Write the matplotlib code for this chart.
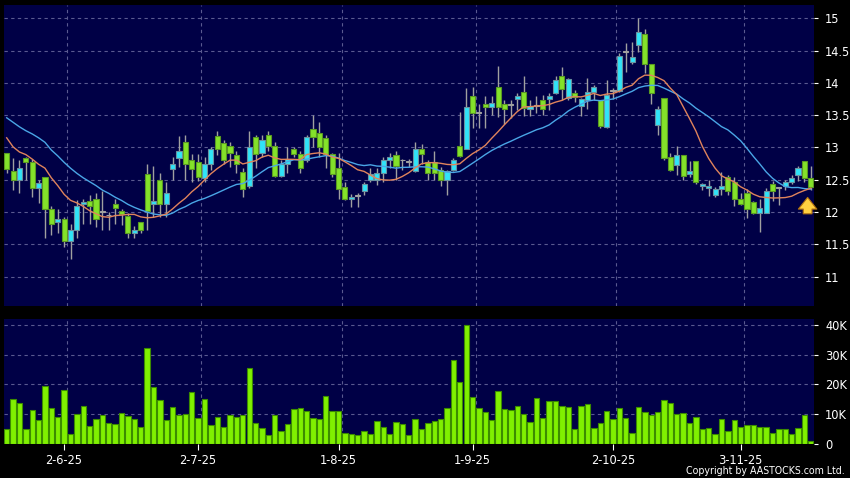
import numpy as np
import pandas as pd
import matplotlib
matplotlib.use('Agg')
import matplotlib.pyplot as plt

# daily OHLC (HKD)
opens = [12.91, 12.64, 12.50, 12.83, 12.77, 12.37, 12.55, 12.04, 11.84, 11.90,
         11.56, 11.73, 12.12, 12.17, 12.21, 12.00, 11.95, 12.12, 12.01, 11.94,
         11.67, 11.84, 12.59, 12.13, 12.50, 12.13, 12.66, 12.83, 13.09, 12.80,
         12.77, 12.52, 12.75, 13.18, 13.07, 13.03, 12.88, 12.62, 12.40, 13.16,
         12.91, 13.20, 13.03, 12.56, 12.75, 12.97, 12.90, 12.81, 13.28, 13.22,
         13.14, 12.90, 12.69, 12.39, 12.21, 12.25, 12.32, 12.50, 12.50, 12.61,
         12.81, 12.88, 12.80, 12.78, 12.64, 12.97, 12.77, 12.77, 12.65, 12.50,
         12.65, 13.03, 12.98, 13.79, 13.54, 13.67, 13.62, 13.93, 13.67, 13.66,
         13.75, 13.86, 13.59, 13.65, 13.74, 13.75, 13.85, 14.10, 13.76, 13.85,
         13.65, 13.74, 13.86, 13.74, 13.31, 13.88, 13.88, 14.48, 14.33, 14.58,
         14.75, 14.30, 13.35, 13.76, 12.86, 12.73, 12.89, 12.59, 12.79, 12.41,
         12.38, 12.26, 12.35, 12.55, 12.47, 12.20, 12.30, 12.16, 11.99, 11.98,
         12.44, 12.37, 12.41, 12.46, 12.58, 12.79, 12.52]
highs = [12.92, 12.83, 12.81, 12.86, 12.82, 12.50, 12.55, 12.10, 12.04, 11.93,
         11.82, 12.19, 12.21, 12.27, 12.29, 12.33, 12.00, 12.20, 12.05, 11.99,
         11.78, 11.84, 12.75, 12.72, 12.60, 12.47, 12.86, 13.18, 13.19, 12.90,
         12.90, 12.86, 13.01, 13.25, 13.12, 13.09, 12.94, 12.68, 13.26, 13.20,
         13.20, 13.25, 13.09, 12.80, 13.00, 13.01, 12.94, 13.20, 13.50, 13.39,
         13.20, 12.91, 12.91, 12.47, 12.28, 12.30, 12.47, 12.68, 12.68, 12.86,
         12.91, 12.94, 12.82, 12.82, 13.09, 13.06, 12.81, 12.94, 12.70, 12.65,
         12.83, 13.55, 13.92, 13.93, 13.68, 13.79, 13.79, 14.26, 13.74, 13.74,
         13.84, 14.10, 13.74, 13.79, 13.81, 13.84, 14.10, 14.24, 14.07, 13.89,
         13.76, 14.07, 13.97, 13.74, 14.05, 13.92, 14.47, 14.61, 14.64, 15.00,
         14.83, 14.30, 13.64, 13.76, 12.92, 13.02, 12.89, 12.79, 12.79, 12.45,
         12.49, 12.39, 12.62, 12.58, 12.54, 12.30, 12.36, 12.17, 12.21, 12.37,
         12.48, 12.39, 12.50, 12.57, 12.72, 12.79, 12.71]
lows = [12.60, 12.34, 12.30, 12.50, 12.24, 12.14, 11.60, 11.65, 11.67, 11.46,
        11.28, 11.60, 11.82, 11.82, 11.77, 11.73, 11.73, 11.82, 11.80, 11.60,
        11.60, 11.67, 11.73, 11.93, 11.93, 11.93, 12.50, 12.70, 12.50, 12.47,
        12.48, 12.47, 12.65, 12.88, 12.75, 12.70, 12.60, 12.24, 12.38, 12.68,
        12.86, 12.94, 12.55, 12.55, 12.60, 12.86, 12.60, 12.78, 13.00, 12.86,
        12.68, 12.55, 12.20, 12.19, 12.08, 12.08, 12.26, 12.47, 12.42, 12.47,
        12.68, 12.50, 12.65, 12.70, 12.62, 12.75, 12.50, 12.50, 12.40, 12.26,
        12.64, 12.86, 12.97, 13.30, 13.30, 13.30, 13.50, 13.47, 13.37, 13.45,
        13.58, 13.48, 13.48, 13.53, 13.50, 13.58, 13.83, 13.74, 13.74, 13.71,
        13.48, 13.59, 13.74, 13.30, 13.30, 13.75, 13.86, 14.17, 14.30, 14.48,
        14.15, 13.68, 13.19, 12.80, 12.63, 12.58, 12.49, 12.55, 12.44, 12.34,
        12.25, 12.23, 12.26, 12.26, 12.10, 12.11, 11.91, 11.97, 11.69, 11.98,
        12.17, 12.11, 12.34, 12.44, 12.48, 12.46, 12.34]
closes = [12.66, 12.50, 12.69, 12.77, 12.37, 12.45, 12.04, 11.81, 11.90, 11.56,
          11.73, 12.10, 12.15, 12.10, 11.90, 12.00, 11.95, 12.07, 11.97, 11.67,
          11.73, 11.72, 12.01, 12.17, 12.13, 12.29, 12.74, 12.95, 12.74, 12.66,
          12.55, 12.74, 12.97, 12.97, 12.81, 12.91, 12.75, 12.35, 13.00, 12.90,
          13.11, 13.03, 12.56, 12.74, 12.82, 12.90, 12.69, 13.16, 13.16, 13.01,
          12.90, 12.59, 12.35, 12.21, 12.23, 12.25, 12.44, 12.59, 12.61, 12.81,
          12.86, 12.72, 12.80, 12.78, 12.97, 12.90, 12.60, 12.61, 12.50, 12.64,
          12.81, 12.87, 13.62, 13.53, 13.54, 13.62, 13.69, 13.63, 13.59, 13.66,
          13.80, 13.61, 13.64, 13.65, 13.59, 13.80, 14.05, 13.90, 14.06, 13.78,
          13.75, 13.86, 13.93, 13.33, 13.81, 13.88, 14.42, 14.48, 14.40, 14.79,
          14.30, 13.84, 13.59, 12.83, 12.65, 12.88, 12.56, 12.63, 12.47, 12.44,
          12.41, 12.35, 12.41, 12.32, 12.20, 12.13, 12.05, 11.99, 12.07, 12.33,
          12.33, 12.37, 12.46, 12.53, 12.69, 12.53, 12.39]
# volume in thousands of shares
volumes_k = [5.1, 15.2, 13.9, 5.1, 11.5, 7.9, 19.3, 12.1, 9.2, 18.2,
             3.5, 10.0, 12.6, 6.2, 8.4, 9.8, 7.0, 6.6, 10.4, 9.3,
             8.4, 5.8, 32.1, 19.0, 14.8, 8.0, 12.4, 9.8, 10.0, 17.5,
             8.7, 15.2, 6.5, 9.2, 5.6, 9.7, 9.2, 9.8, 25.6, 7.2,
             5.3, 3.1, 9.6, 4.3, 6.7, 11.6, 12.2, 11.1, 8.8, 8.3,
             16.2, 11.2, 11.2, 3.8, 3.5, 3.1, 4.5, 3.3, 7.8, 5.8,
             3.4, 7.5, 6.7, 2.9, 8.4, 4.9, 6.9, 7.6, 8.3, 12.1,
             28.0, 20.8, 39.9, 15.7, 12.0, 10.6, 7.9, 17.6, 11.8, 11.5,
             12.8, 10.1, 7.3, 15.5, 8.8, 14.3, 14.5, 12.7, 12.4, 4.9,
             12.7, 13.5, 5.2, 7.1, 10.9, 8.3, 12.1, 8.8, 3.8, 12.5,
             10.6, 9.8, 10.7, 14.9, 13.9, 10.0, 10.3, 6.9, 9.2, 5.1,
             5.5, 3.5, 8.4, 4.2, 7.9, 5.8, 6.4, 6.4, 5.6, 5.6,
             3.8, 4.9, 4.9, 3.3, 5.4, 9.7, 1.0]
# moving averages before enough in-window closes exist
ma10_head = [13.15, 13.01, 12.93, 12.89, 12.82, 12.74, 12.68, 12.53, 12.41]
ma20_head = [13.46, 13.39, 13.32, 13.26, 13.21, 13.15, 13.08, 12.96, 12.87, 12.77,
             12.68, 12.60, 12.53, 12.47, 12.41, 12.34, 12.29, 12.23, 12.18]

date_idx = [9, 30, 52, 73, 95, 115]
date_labels = ['2-6-25', '2-7-25', '1-8-25', '1-9-25', '2-10-25', '3-11-25']
price_ticks = [11, 11.5, 12, 12.5, 13, 13.5, 14, 14.5, 15]
price_labels = ['11', '11.5', '12', '12.5', '13', '13.5', '14', '14.5', '15']
vol_ticks = [0, 10, 20, 30, 40]
vol_labels = ['0', '10K', '20K', '30K', '40K']
arrow_tip = 12.27
arrow_tail = 11.93

BG = '#000046'
GRID = '#5a5a90'
GREEN = '#84e22a'
GREEN_EDGE = '#5a9a22'
CYAN = '#30e4f8'
CYAN_EDGE = '#6a92a0'
GREY = '#a0a0a0'

plt.rcParams['font.family'] = ['DejaVu Sans']
plt.rcParams['font.stretch'] = 'condensed'

o = np.array(opens)
h = np.array(highs)
l = np.array(lows)
c = np.array(closes)
n = len(c)
x = np.arange(n)

s = pd.Series(closes)
ma10 = s.rolling(10).mean()
ma10.iloc[:len(ma10_head)] = ma10_head
ma20 = s.rolling(20).mean()
ma20.iloc[:len(ma20_head)] = ma20_head

fig = plt.figure(figsize=(8.5, 4.78), dpi=100, facecolor='black')
ax1 = fig.add_axes([4 / 850, 1 - 306 / 478, 810 / 850, 301 / 478])
ax2 = fig.add_axes([4 / 850, 1 - 444 / 478, 810 / 850, 125 / 478])

for ax in (ax1, ax2):
    ax.set_facecolor(BG)
    for sp in ax.spines.values():
        sp.set_visible(False)
    ax.set_xlim(-0.42, n - 0.5)
    for d in date_idx:
        ax.axvline(d + 0.5, color=GRID, lw=0.8, ls=(0, (3, 3)), zorder=1)
    ax.yaxis.tick_right()
    ax.tick_params(axis='y', colors='white', labelsize=9.2, length=3, pad=5)

# price panel
for p in price_ticks:
    ax1.axhline(p, color=GRID, lw=0.8, ls=(0, (3, 3)), zorder=1)
ax1.vlines(x, l, h, color=GREY, lw=1, zorder=2)
body_colors = np.where(c > o, CYAN, np.where(c < o, GREEN, GREY))
edge_colors = np.where(c > o, CYAN_EDGE, np.where(c < o, GREEN_EDGE, GREY))
ax1.bar(x, np.maximum(np.abs(c - o), 0.012), bottom=np.minimum(o, c), width=0.8,
        color=body_colors, edgecolor=edge_colors, linewidth=0.8, zorder=3)
ax1.plot(x, ma20, color='#4aa6e6', lw=1, zorder=4)
ax1.plot(x, ma10, color='#e0845c', lw=1, zorder=4)
ax1.annotate('', xy=(n - 1.5, arrow_tip), xytext=(n - 1.5, arrow_tail),
             arrowprops=dict(arrowstyle='simple,head_width=0.95,head_length=0.6,tail_width=0.45',
                             mutation_scale=14, fc='#ffd040', ec='#b07010', lw=0.8),
             zorder=5)
ax1.set_ylim(10.546, 15.206)
ax1.set_yticks(price_ticks)
ax1.set_yticklabels(price_labels)
ax1.set_xticks([])

# volume panel
for v in vol_ticks[1:]:
    ax2.axhline(v, color=GRID, lw=0.8, ls=(0, (3, 3)), zorder=1)
ax2.bar(x, volumes_k, width=0.84, color='#80f000', edgecolor='#3c8c00', linewidth=0.8, zorder=3)
ax2.set_ylim(0, 41.9)
ax2.set_yticks(vol_ticks)
ax2.set_yticklabels(vol_labels)
ax2.set_xticks(date_idx)
ax2.set_xticklabels(date_labels)
ax2.tick_params(axis='x', colors='white', labelsize=9.2, length=4, pad=3)

fig.text(845 / 850, 1 - 470.5 / 478, 'Copyright by AASTOCKS.com Ltd.', color='white',
         fontsize=7.6, ha='right', va='center')

fig.savefig('out.png', dpi=100, facecolor='black')
